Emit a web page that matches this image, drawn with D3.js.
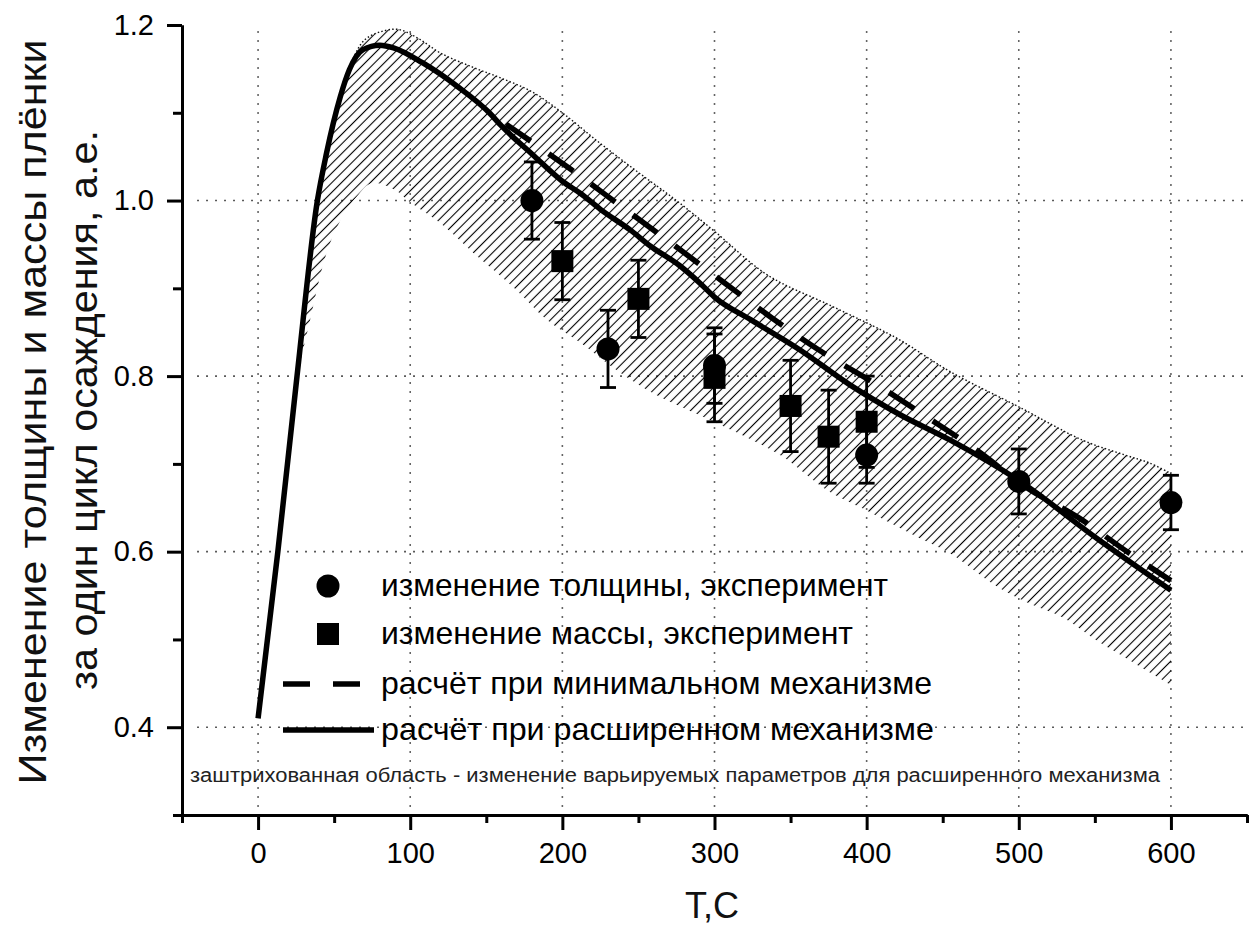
<!DOCTYPE html>
<html>
<head>
<meta charset="utf-8">
<script src="https://cdn.jsdelivr.net/npm/d3@7"></script>
<style>
  html, body { margin: 0; padding: 0; background: #fff; }
  svg { display: block; font-family: "Liberation Sans", Arial, sans-serif; }
</style>
</head>
<body>
<svg id="chart" width="1251" height="942"></svg>
<script>
// Experimental film thickness change (circles) with error bars
const thicknessT   = [180, 230, 300, 400, 500, 600];
const thicknessV   = [1.000, 0.831, 0.812, 0.710, 0.680, 0.656];
const thicknessErr = [0.044, 0.044, 0.043, 0.032, 0.037, 0.031];

// Experimental film mass change (squares) with error bars
const massT   = [200, 250, 300, 350, 375, 400];
const massV   = [0.931, 0.888, 0.798, 0.766, 0.731, 0.748];
const massErr = [0.044, 0.044, 0.050, 0.052, 0.053, 0.052];

// Calculation, minimal mechanism (dashed)
const minimalT = [163, 206, 239, 272, 306, 338, 372, 405, 440, 472, 506, 539, 572, 600];
const minimalV = [1.087, 1.035, 0.993, 0.951, 0.907, 0.866, 0.826, 0.792, 0.753, 0.716, 0.672, 0.639, 0.599, 0.567];

// Calculation, extended mechanism (solid)
const extendedT = [0, 13, 25.6, 39, 45, 54, 60, 69, 80, 89, 108, 131, 152, 160, 180, 200, 212, 225, 245, 258, 277, 291, 300, 324, 356, 389, 422, 455, 500, 553, 600];
const extendedV = [0.41, 0.60, 0.80, 1.0, 1.054, 1.118, 1.149, 1.172, 1.177, 1.174, 1.157, 1.13, 1.10, 1.085, 1.053, 1.022, 1.008, 0.99, 0.966, 0.948, 0.926, 0.905, 0.89, 0.864, 0.83, 0.79, 0.756, 0.727, 0.681, 0.613, 0.556];

// Hatched band: range of the varied parameters for the extended mechanism
const bandUpperT = [25.6, 32, 39, 45, 54, 62, 70, 80, 92, 105, 120, 141, 159, 180, 200, 225, 250, 275, 300, 335, 378, 420, 455, 500, 542, 570, 586, 600];
const bandUpperV = [0.80, 0.90, 1.0, 1.054, 1.118, 1.16, 1.183, 1.192, 1.195, 1.185, 1.168, 1.152, 1.14, 1.124, 1.10, 1.065, 1.032, 1.0, 0.965, 0.915, 0.879, 0.843, 0.805, 0.765, 0.727, 0.71, 0.701, 0.689];
const bandLowerT = [25.6, 33, 45, 55, 65, 75, 90, 100, 120, 145, 168, 190, 212, 233, 256, 278, 302, 325, 345, 374, 400, 433, 455, 486, 507, 529, 551, 573, 600];
const bandLowerV = [0.80, 0.855, 0.94, 0.98, 1.005, 1.02, 1.012, 0.998, 0.974, 0.935, 0.901, 0.864, 0.838, 0.81, 0.784, 0.765, 0.746, 0.727, 0.708, 0.67, 0.647, 0.617, 0.598, 0.56, 0.541, 0.525, 0.499, 0.476, 0.448];

// Axis ticks
const xTicks      = [0, 100, 200, 300, 400, 500, 600];
const xMinorTicks = [-50, 50, 150, 250, 350, 450, 550, 650];
const yTicks      = [0.4, 0.6, 0.8, 1.0, 1.2];
const yMinorTicks = [0.3, 0.5, 0.7, 0.9, 1.1];

// Texts
const legendLabels = [
  "изменение толщины, эксперимент",
  "изменение массы, эксперимент",
  "расчёт при минимальном механизме",
  "расчёт при расширенном механизме"
];
const noteText = "заштрихованная область - изменение варьируемых параметров для расширенного механизма";
const xTitle = "T,C";
const yTitleLines = ["Изменение толщины и массы плёнки", "за один цикл осаждения, а.е."];

const svg = d3.select("#chart");
svg.append("rect").attr("width", 1251).attr("height", 942).attr("fill", "#fff");

const x = d3.scaleLinear().domain([-50, 650]).range([182, 1247]);
const y = d3.scaleLinear().domain([0.3, 1.2]).range([815, 25]);

// hatch pattern: thin "/" strokes
const defs = svg.append("defs");
const pat = defs.append("pattern")
  .attr("id", "hatch")
  .attr("patternUnits", "userSpaceOnUse")
  .attr("width", 6.8).attr("height", 6.8)
  .attr("patternTransform", "rotate(45)");
pat.append("line")
  .attr("x1", 3.4).attr("y1", -1).attr("x2", 3.4).attr("y2", 7.8)
  .attr("stroke", "#000").attr("stroke-width", 1.1);

// dotted grid
const grid = svg.append("g")
  .attr("stroke", "#333").attr("stroke-width", 1.6)
  .attr("stroke-dasharray", "1.6,7.4").attr("fill", "none");
grid.selectAll("line.gv").data(xTicks).join("line").attr("class", "gv")
  .attr("x1", d => x(d)).attr("x2", d => x(d))
  .attr("y1", y(1.193)).attr("y2", y(0.3));
grid.selectAll("line.gh").data(yTicks.filter(v => v < 1.2)).join("line").attr("class", "gh")
  .attr("x1", x(-40)).attr("x2", x(650))
  .attr("y1", d => y(d)).attr("y2", d => y(d));

// hatched band
const upper = d3.zip(bandUpperT, bandUpperV);
const lower = d3.zip(bandLowerT, bandLowerV);
const edge = d3.line().x(d => x(d[0])).y(d => y(d[1])).curve(d3.curveCatmullRom.alpha(0.5));
const bandPath = edge(upper) + "L" + edge(lower.slice().reverse()).slice(1) + "Z";
svg.append("path").attr("d", bandPath).attr("fill", "url(#hatch)").attr("stroke", "none");
// dotted upper boundary of the band
svg.append("path")
  .attr("d", edge(upper.filter(d => d[0] >= 54)))
  .attr("fill", "none").attr("stroke", "#111").attr("stroke-width", 1.4)
  .attr("stroke-dasharray", "1.5,2.2");

// calculated curves
const curve = d3.line().x(d => x(d[0])).y(d => y(d[1])).curve(d3.curveMonotoneX);
svg.append("path")
  .attr("d", curve(d3.zip(minimalT, minimalV)))
  .attr("fill", "none").attr("stroke", "#000").attr("stroke-width", 5.5)
  .attr("stroke-dasharray", "30,22");
svg.append("path")
  .attr("d", curve(d3.zip(extendedT, extendedV)))
  .attr("fill", "none").attr("stroke", "#000").attr("stroke-width", 5.5);

// error bars and markers
function errorBars(ts, vs, es) {
  const g = svg.append("g").attr("stroke", "#000").attr("stroke-width", 2.8);
  ts.forEach((t, i) => {
    const cx = x(t);
    g.append("line").attr("x1", cx).attr("x2", cx).attr("y1", y(vs[i] + es[i])).attr("y2", y(vs[i] - es[i]));
    g.append("line").attr("x1", cx - 8).attr("x2", cx + 8).attr("y1", y(vs[i] + es[i])).attr("y2", y(vs[i] + es[i]));
    g.append("line").attr("x1", cx - 8).attr("x2", cx + 8).attr("y1", y(vs[i] - es[i])).attr("y2", y(vs[i] - es[i]));
  });
}
errorBars(thicknessT, thicknessV, thicknessErr);
errorBars(massT, massV, massErr);

svg.append("g").selectAll("rect").data(d3.zip(massT, massV)).join("rect")
  .attr("x", d => x(d[0]) - 11).attr("y", d => y(d[1]) - 11)
  .attr("width", 22).attr("height", 22).attr("fill", "#000");
svg.append("g").selectAll("circle").data(d3.zip(thicknessT, thicknessV)).join("circle")
  .attr("cx", d => x(d[0])).attr("cy", d => y(d[1])).attr("r", 11.5).attr("fill", "#000");

// axes
function styleAxis(g) {
  g.attr("font-size", 29).attr("font-family", "\"Liberation Sans\", Arial, sans-serif");
  g.select(".domain").attr("stroke", "#000").attr("stroke-width", 3);
  g.selectAll(".tick line").attr("stroke", "#000").attr("stroke-width", 3);
  g.selectAll(".tick text").attr("fill", "#000").style("font-size", "29px");
}
const yAxisG = svg.append("g").attr("transform", `translate(${x(-50)},0)`)
  .call(d3.axisLeft(y).tickValues(yTicks).tickSize(15).tickPadding(13)
    .tickFormat(d3.format(".1f")).tickSizeOuter(0));
styleAxis(yAxisG);
const yMinorG = svg.append("g").attr("transform", `translate(${x(-50)},0)`)
  .call(d3.axisLeft(y).tickValues(yMinorTicks).tickSize(9).tickFormat("").tickSizeOuter(0));
styleAxis(yMinorG);

const xAxisG = svg.append("g").attr("transform", `translate(0,${y(0.3)})`)
  .call(d3.axisBottom(x).tickValues(xTicks).tickSize(15).tickPadding(12)
    .tickFormat(d3.format("d")).tickSizeOuter(0));
styleAxis(xAxisG);
const xMinorG = svg.append("g").attr("transform", `translate(0,${y(0.3)})`)
  .call(d3.axisBottom(x).tickValues(xMinorTicks).tickSize(8).tickFormat("").tickSizeOuter(0));
styleAxis(xMinorG);

// legend
const lg = svg.append("g");
const rowY = [586, 634, 684, 730];
const textWidths = [507, 472, 551, 553];
lg.append("circle").attr("cx", 328).attr("cy", rowY[0]).attr("r", 11.5).attr("fill", "#000");
lg.append("rect").attr("x", 317).attr("y", rowY[1] - 11).attr("width", 22).attr("height", 22).attr("fill", "#000");
lg.append("line").attr("x1", 283).attr("x2", 360).attr("y1", rowY[2]).attr("y2", rowY[2])
  .attr("stroke", "#000").attr("stroke-width", 5.5).attr("stroke-dasharray", "27,23");
lg.append("line").attr("x1", 283).attr("x2", 374).attr("y1", rowY[3]).attr("y2", rowY[3])
  .attr("stroke", "#000").attr("stroke-width", 5.5);
lg.selectAll("text").data(legendLabels).join("text")
  .attr("x", 381).attr("y", (d, i) => rowY[i] + 10)
  .attr("font-size", 32).attr("fill", "#000")
  .attr("textLength", (d, i) => textWidths[i]).attr("lengthAdjust", "spacingAndGlyphs")
  .text(d => d);

// note about the hatched band
svg.append("text").attr("x", 190).attr("y", 782)
  .attr("font-size", 20).attr("fill", "#222")
  .attr("textLength", 970).attr("lengthAdjust", "spacingAndGlyphs")
  .text(noteText);

// axis titles
svg.append("text").attr("x", 712).attr("y", 918).attr("text-anchor", "middle")
  .attr("font-size", 36).attr("fill", "#111").text(xTitle);
const yTitleX = [46, 97];
const yTitleLen = [745, 560];
const yTitleMid = [412, 410];
yTitleLines.forEach((t, i) => {
  svg.append("text")
    .attr("transform", `translate(${yTitleX[i]},${yTitleMid[i]}) rotate(-90)`)
    .attr("text-anchor", "middle").attr("font-size", 39).attr("fill", "#111")
    .attr("textLength", yTitleLen[i]).attr("lengthAdjust", "spacingAndGlyphs")
    .text(t);
});
</script>
</body>
</html>
